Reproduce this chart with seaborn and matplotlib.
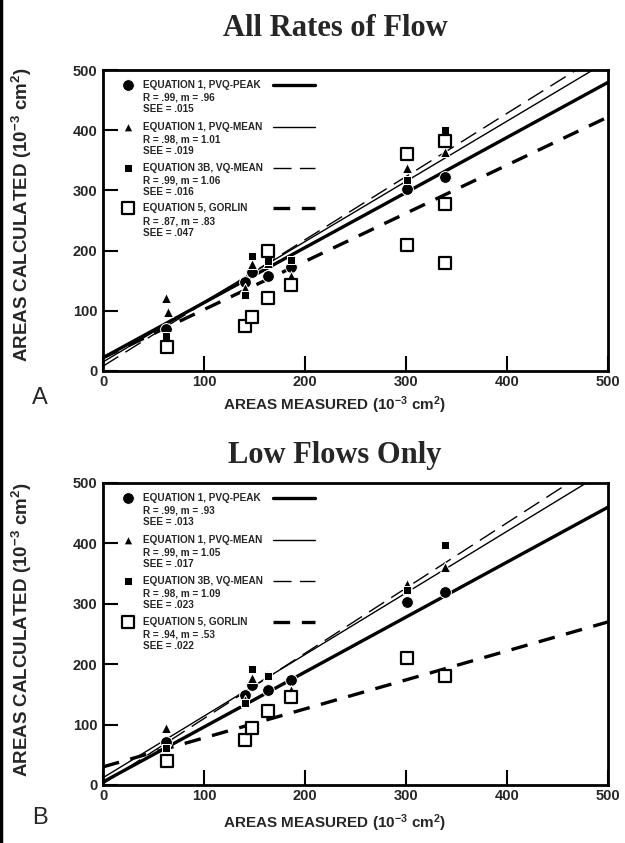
import numpy as np
import pandas as pd
import matplotlib
matplotlib.use("Agg")
import matplotlib.pyplot as plt
import seaborn as sns
from matplotlib.lines import Line2D

sns.set_theme(style="white")
plt.rcParams["font.family"] = ["Liberation Sans", "DejaVu Sans"]
plt.rcParams["mathtext.fontset"] = "custom"
plt.rcParams["mathtext.rm"] = "Liberation Sans:bold"
plt.rcParams["mathtext.bf"] = "Liberation Sans:bold"
plt.rcParams["mathtext.default"] = "bf"

# ---------------- data: panel A (all rates of flow) ----------------
a_peak_x = [62, 141, 148, 163, 186, 301, 339]
a_peak_y = [70, 148, 165, 157, 173, 303, 322]
a_mean_x = [62, 64, 141, 148, 163, 186, 301, 339]
a_mean_y = [121, 98, 138, 177, 180, 157, 337, 364]
a_vq_x = [62, 141, 148, 163, 186, 301, 339]
a_vq_y = [58, 126, 191, 182, 184, 317, 400]
a_gor_x = [63, 141, 148, 163, 163, 186, 301, 301, 339, 339, 339]
a_gor_y = [40, 75, 90, 121, 199, 143, 209, 361, 179, 278, 382]

# ---------------- data: panel B (low flows only) ----------------
b_peak_x = [62, 141, 148, 163, 186, 301, 339]
b_peak_y = [71, 149, 166, 157, 174, 303, 320]
b_mean_x = [62, 141, 148, 163, 186, 301, 339]
b_mean_y = [94, 140, 177, 182, 157, 333, 361]
b_vq_x = [62, 141, 148, 163, 301, 339]
b_vq_y = [62, 136, 192, 180, 323, 397]
b_gor_x = [63, 141, 148, 163, 186, 301, 339]
b_gor_y = [40, 75, 94, 122, 145, 210, 181]

# regression lines (intercept, slope)
a_fit_b = [22, 15, 8, 22]
a_fit_m = [0.915, 1.00, 1.05, 0.80]
b_fit_b = [5, 12, 2, 30]
b_fit_m = [0.91, 1.02, 1.08, 0.48]

series_names = ["EQUATION 1, PVQ-PEAK", "EQUATION 1, PVQ-MEAN",
                "EQUATION 3B, VQ-MEAN", "EQUATION 5, GORLIN"]
a_stats = [["R = .99, m = .96", "SEE = .015"],
           ["R = .98, m = 1.01", "SEE = .019"],
           ["R = .99, m = 1.06", "SEE = .016"],
           ["R = .87, m = .83", "SEE = .047"]]
b_stats = [["R = .99, m = .93", "SEE = .013"],
           ["R = .99, m = 1.05", "SEE = .017"],
           ["R = .98, m = 1.09", "SEE = .023"],
           ["R = .94, m = .53", "SEE = .022"]]

ticks = [0, 100, 200, 300, 400, 500]

# styles
mk = [dict(marker="o", s=72, color="black", edgecolor="white", linewidth=0.7),
      dict(marker="^", s=52, color="black", edgecolor="white", linewidth=0.7),
      dict(marker="s", s=34, color="black", edgecolor="white", linewidth=0.7),
      dict(marker="s", s=68, color="white", edgecolor="black", linewidth=1.6)]
legend_s = [72, 40, 40, 80]
ls = [dict(color="black", lw=2.4, ls="-"),
      dict(color="black", lw=1.0, ls="-"),
      dict(color="black", lw=1.0, ls=(0, (13, 6))),
      dict(color="black", lw=2.4, ls=(0, (5, 3.5)))]

fig = plt.figure(figsize=(6.25, 8.43), dpi=100)
W, H = 625, 843


def ax_rect(x0, y0, x1, y1):
    return [x0 / W, 1 - y1 / H, (x1 - x0) / W, (y1 - y0) / H]


def panel(rect, pts, fit_b, fit_m, stats):
    ax = fig.add_axes(rect)
    for b, m, st in zip(fit_b, fit_m, ls):
        ax.axline((0, b), slope=m, **st, zorder=2)
    order = [3, 0, 1, 2]
    for i in order:
        x, y = pts[i]
        df = pd.DataFrame({"x": x, "y": y})
        sns.scatterplot(data=df, x="x", y="y", ax=ax, zorder=3 + i, **mk[i])
    ax.set_xlim(0, 500)
    ax.set_ylim(0, 500)
    ax.set_xticks(ticks)
    ax.set_yticks(ticks)
    ax.set_xticklabels([str(t) for t in ticks], fontweight="bold", fontsize=10.5)
    ax.set_yticklabels([str(t) for t in ticks], fontweight="bold", fontsize=10.5)
    ax.tick_params(direction="in", length=11, width=1.5, color="black",
                   pad=4, bottom=True, left=True)
    ax.tick_params(axis="x", pad=3)
    ax.set_xlabel("")
    ax.set_ylabel("")
    for sp in ax.spines.values():
        sp.set_linewidth(2.0)
        sp.set_color("black")
    ys = [0.95, 0.812, 0.676, 0.540]
    for i in range(4):
        yy = ys[i]
        ax.scatter([0.05], [yy], transform=ax.transAxes, clip_on=False,
                   marker=mk[i]["marker"], s=legend_s[i],
                   color=mk[i]["color"], edgecolors=mk[i]["edgecolor"],
                   linewidths=mk[i]["linewidth"], zorder=10)
        ax.text(0.079, yy, series_names[i], transform=ax.transAxes, fontsize=7.2,
                fontweight="bold", va="center", ha="left", zorder=10)
        ax.text(0.079, yy - 0.042, stats[i][0], transform=ax.transAxes, fontsize=7.2,
                fontweight="bold", va="center", ha="left", zorder=10)
        ax.text(0.079, yy - 0.080, stats[i][1], transform=ax.transAxes, fontsize=7.2,
                fontweight="bold", va="center", ha="left", zorder=10)
        ax.add_line(Line2D([0.337, 0.42], [yy, yy], transform=ax.transAxes, **ls[i],
                           zorder=10))
    return ax


axA = panel(ax_rect(103, 70, 608, 371),
            [(a_peak_x, a_peak_y), (a_mean_x, a_mean_y), (a_vq_x, a_vq_y), (a_gor_x, a_gor_y)],
            a_fit_b, a_fit_m, a_stats)
axB = panel(ax_rect(103, 483, 608, 785),
            [(b_peak_x, b_peak_y), (b_mean_x, b_mean_y), (b_vq_x, b_vq_y), (b_gor_x, b_gor_y)],
            b_fit_b, b_fit_m, b_stats)

ylab = r"AREAS CALCULATED (10$^{-3}$ cm$^{2}$)"
xlab = r"AREAS MEASURED (10$^{-3}$ cm$^{2}$)"
title_font = ["Liberation Serif", "DejaVu Serif"]

fig.text(335 / W, 1 - 28 / H, "All Rates of Flow", family=title_font, fontweight="bold",
         fontsize=22, ha="center", va="center")
fig.text(335 / W, 1 - 455 / H, "Low Flows Only", family=title_font, fontweight="bold",
         fontsize=22, ha="center", va="center")
fig.text(335 / W, 1 - 405 / H, xlab, fontweight="bold", fontsize=11, ha="center", va="center")
fig.text(335 / W, 1 - 823 / H, xlab, fontweight="bold", fontsize=11, ha="center", va="center")
fig.text(22 / W, 1 - 215 / H, ylab, fontweight="bold", fontsize=13.5, ha="center", va="center",
         rotation=90)
fig.text(22 / W, 1 - 630 / H, ylab, fontweight="bold", fontsize=13.5, ha="center", va="center",
         rotation=90)
fig.text(40 / W, 1 - 398 / H, "A", fontsize=17, ha="center", va="center")
fig.text(40 / W, 1 - 818 / H, "B", fontsize=17, ha="center", va="center")

fig.add_artist(Line2D([0.002, 0.002], [0, 1], transform=fig.transFigure, color="black", lw=2.5))

fig.savefig("out.png", dpi=100, facecolor="white")
